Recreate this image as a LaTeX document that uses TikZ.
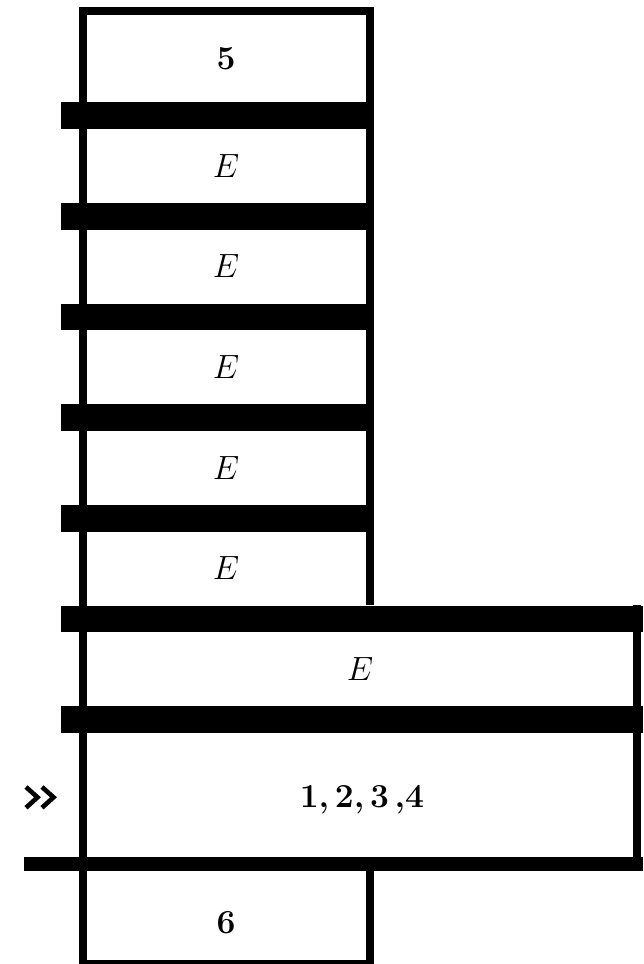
\RequirePackage{fix-cm}
\documentclass[tikz,border=0pt]{standalone}
\usepackage{fontspec}
\usetikzlibrary{positioning}

\tikzset{
  label/.style={inner sep=0pt, anchor=base, font=\fontsize{16.8}{20}\selectfont},
  wall/.style={line width=4pt, line join=miter},
  bar/.style={fill=black}
}

\begin{document}
\begin{tikzpicture}[x=0.5pt, y=-0.5pt]
  \useasboundingbox (0,0) rectangle (643,964);

  \coordinate (topl) at (83.3, 10.8);
  \coordinate (topr) at (369.5, 10.8);
  \coordinate (stepr) at (369.5, 605);
  \coordinate (widetop) at (636.7, 605);
  \coordinate (widebot) at (636.7, 870);
  \coordinate (footl) at (83.3, 963.7);
  \coordinate (footr) at (369.5, 963.7);
  \coordinate (footrtop) at (369.5, 870);

  \node[label] (five) at (226, 69.5) {\textbf{5}};
  \node[label] (ea) at (226, 177) {$E$};
  \node[label] (eb) at (226, 277.7) {$E$};
  \node[label] (ec) at (226, 378.3) {$E$};
  \node[label] (ed) at (226, 479) {$E$};
  \node[label] (ee) at (226, 579.7) {$E$};
  \node[label] (ewide) at (360, 680.3) {$E$};
  \node[label] (cur) at (362, 807) {\bfseries\spaceskip=0.17em 1, 2, 3 ,4};
  \node[label] (six) at (226, 933) {\textbf{6}};

  \fill[bar] (61, 102.3) rectangle (373.3, 129);
  \fill[bar] (61, 203) rectangle (373.3, 229.7);
  \fill[bar] (61, 303.6) rectangle (373.3, 330.3);
  \fill[bar] (61, 404.3) rectangle (373.3, 431);
  \fill[bar] (61, 505) rectangle (373.3, 531.7);
  \fill[bar] (61, 605.6) rectangle (643, 632.3);
  \fill[bar] (61, 706.3) rectangle (643, 733);
  \fill[bar] (23.7, 857.3) rectangle (643, 870.7);

  \draw[wall] (footl) -- (topl) -- (topr) -- (stepr);
  \draw[wall] (widetop) -- (widebot);
  \draw[wall] (footl) -- (footr) -- (footrtop);

  \draw[line width=2.3pt] (26, 787) -- (37.5, 797.3) -- (26, 807.7);
  \draw[line width=2.3pt] (42, 787) -- (53.5, 797.3) -- (42, 807.7);
\end{tikzpicture}
\end{document}
